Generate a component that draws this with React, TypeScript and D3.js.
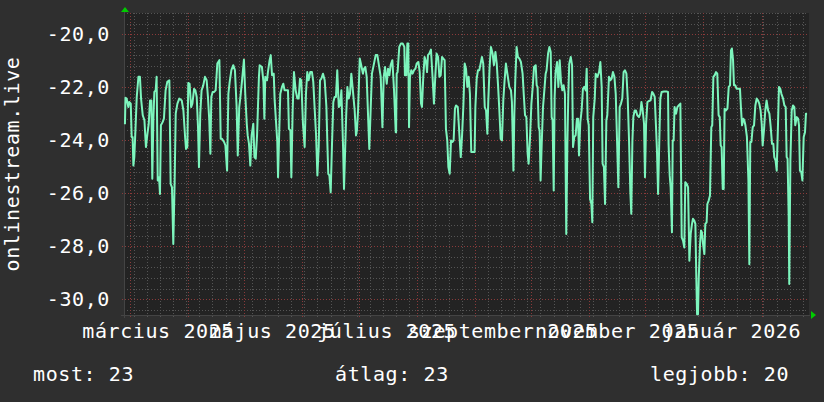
import React from "react";
import * as d3 from "d3";

// Day offsets from 2025-03-01 (UTC) and the series values
const daysSpring = [-2.7,-2.4,-1.8,-0.9,-0.4,0.4,0.9,1.4,1.8,2.3,2.9,3.6,4.5,5.3,5.9,6.8,7.7,8.5,9.3,10.0,10.7,11.4,11.9,12.5,13.0,13.7,14.2,14.8,15.5,16.0,16.5,17.4,18.1,19.0,19.9,21.0,21.7,22.4,23.1,23.8,24.4,25.3,26.3,27.6,28.5,29.4,29.9,30.6,31.1,31.8,32.6,33.3,34.2,34.9,35.6,36.3,36.8,37.5,38.2,39.1,40.0,40.9,41.6,42.3,42.9,43.4,44.1,44.8,45.7,46.6,47.7,48.4,49.1,50.2,50.9,51.8,52.5,53.2,54.1,55.1,56.0,56.9,57.5,58.3,59.1,59.8,60.8,61.5,62.3,62.8,63.5,64.2,64.9,65.8,66.4,67.1,67.8];
const valsSpring = [-23.4,-22.4,-22.43,-22.75,-22.56,-22.62,-23.88,-23.88,-24.96,-24.64,-23.63,-22.37,-21.61,-21.61,-22.43,-23.06,-23.25,-24.26,-23.76,-23.38,-22.5,-22.5,-25.46,-23.13,-22.18,-22.12,-21.61,-25.52,-25.4,-26.03,-23.44,-23.32,-23.19,-22.12,-21.8,-21.74,-25.65,-25.78,-27.92,-25.65,-23.0,-22.62,-22.43,-22.5,-22.88,-23.88,-24.33,-24.26,-21.84,-21.87,-22.75,-22.62,-22.06,-22.12,-22.37,-23.51,-25.02,-23.0,-22.12,-21.93,-21.61,-21.74,-22.37,-23.25,-24.51,-22.37,-22.18,-22.18,-22.12,-21.11,-20.98,-23.95,-23.95,-24.07,-24.2,-25.15,-22.25,-21.8,-21.36,-21.17,-21.36,-22.75,-24.58,-22.75,-22.25,-21.74,-20.96,-22.25,-23.38,-23.82,-24.14,-24.96,-23.82,-23.38,-24.64,-24.7,-23.82];

const daysSummer = [68.8,69.2,70.4,71.2,71.7,72.2,73.1,73.6,74.5,75.1,75.8,76.7,77.2,78.1,78.6,79.0,79.5,80.2,81.1,81.8,82.5,83.4,84.3,84.8,85.6,86.1,86.8,87.5,88.4,89.3,90.0,90.7,91.4,92.3,93.2,93.9,94.6,95.3,96.2,97.1,97.8,98.5,99.3,100.0,100.7,101.4,102.1,103.0,103.9,104.8,105.3,105.8,106.4,107.1,107.8,108.5,109.2,109.9,110.6,111.4,112.1,112.8,113.7,114.2,114.9,115.4,116.0,116.7,117.4,118.1,119.0,119.9,120.6,121.1,121.7,122.6,123.4,124.3,124.9,125.6,126.3,127.0,127.7,128.4,129.1,130.2,131.1,132.0,132.7,133.8,134.7,135.4,136.1,137.0,137.7,138.4,139.1,140.0,140.9,141.8,142.0];
const valsSummer = [-21.61,-21.17,-21.24,-21.8,-23.19,-21.61,-21.74,-21.43,-20.98,-20.79,-21.55,-21.49,-22.5,-23.51,-24.07,-25.4,-24.07,-22.25,-21.99,-21.87,-22.12,-22.12,-22.12,-23.57,-23.63,-25.4,-22.88,-21.43,-22.12,-22.43,-22.43,-21.68,-21.74,-23.38,-24.26,-22.25,-21.43,-21.74,-21.43,-21.43,-21.8,-22.75,-23.82,-25.33,-24.26,-21.74,-21.68,-21.49,-21.74,-22.75,-24.07,-25.27,-25.33,-25.97,-24.14,-22.56,-22.37,-22.37,-21.36,-22.75,-22.69,-22.12,-24.26,-25.84,-24.14,-23.0,-21.99,-22.43,-22.25,-21.49,-22.18,-22.88,-23.82,-23.63,-22.88,-20.92,-21.17,-21.49,-21.3,-21.24,-21.61,-23.0,-24.33,-22.88,-21.49,-21.11,-20.79,-20.79,-21.11,-21.61,-23.51,-21.61,-21.24,-21.87,-21.3,-21.55,-21.17,-20.98,-22.12,-23.7,-23.7];

const daysAutumn = [142.3,142.8,143.7,144.6,145.5,146.4,146.7,147.5,148.0,148.5,148.9,149.4,150.1,150.8,151.6,152.3,153.0,153.9,154.6,155.3,155.8,156.5,157.2,158.0,158.5,159.0,159.7,160.6,161.5,162.2,162.9,163.6,164.4,165.1,165.8,166.5,167.2,167.9,168.6,169.3,169.9,170.6,171.3,172.0,172.7,173.4,174.0,174.9,175.7,176.5,177.2,177.9,178.6,179.3,180.0,180.7,181.4,182.1,182.9,183.9,184.3,185.0,185.7,186.4,187.1,187.8,188.5,189.3,190.0,190.7,191.2,191.9,192.6,193.5,194.2,195.0,195.7,196.4,197.1,197.8,198.5,199.2,199.9,200.6,201.5,202.4,203.3,203.8,204.6,205.1,205.6,206.3,207.0,207.8,208.6,209.5,210.1,210.8,211.5,212.2,212.7,213.4,214.2,214.9,215.6,216.5,217.0,217.5,218.1,218.6,219.1,219.7,220.4,221.1,221.8,222.3,223.1,223.8,224.5,225.0,225.5,226.1,226.6,227.1,227.9,228.6,229.3,230.0,230.7,231.4,232.1,232.8,233.4,233.9,234.4,235.2,235.9,236.4,237.1,237.8,238.5,239.1,239.6,240.3,241.0,241.7,242.4,243.2,243.7,244.2,244.8,245.5,246.2,246.7,247.2,248.0,248.5,249.4,250.3,251.0,251.7,252.2,252.9,253.5,254.2,254.7,255.6,256.3,257.0,257.7,258.5,259.2,259.9,260.6];
const valsAutumn = [-21.49,-21.43,-20.48,-20.35,-20.35,-20.48,-21.55,-21.55,-20.35,-20.35,-23.51,-21.61,-21.36,-21.49,-21.36,-21.3,-21.11,-21.05,-21.43,-22.62,-22.75,-21.61,-20.86,-21.05,-21.43,-20.79,-20.73,-20.58,-21.68,-22.62,-21.61,-20.73,-20.86,-21.61,-21.55,-20.86,-20.92,-20.98,-23.57,-24.01,-25.02,-25.27,-24.01,-24.07,-24.01,-22.81,-22.69,-22.75,-23.7,-24.64,-23.82,-22.69,-21.11,-21.3,-21.99,-21.61,-22.25,-24.45,-24.45,-24.45,-22.75,-21.68,-21.36,-21.36,-21.11,-20.86,-21.11,-22.75,-22.88,-23.76,-22.5,-21.24,-20.48,-20.73,-21.17,-20.67,-21.11,-21.93,-22.88,-23.95,-24.01,-22.5,-21.74,-21.11,-21.55,-21.99,-22.12,-22.56,-25.15,-23.0,-21.74,-20.48,-20.86,-20.92,-21.05,-21.49,-22.25,-23.06,-23.13,-24.51,-24.89,-24.01,-22.62,-21.99,-21.24,-21.17,-21.93,-21.99,-23.51,-23.63,-25.52,-24.14,-22.75,-22.12,-21.49,-21.36,-20.73,-20.48,-20.67,-23.13,-23.25,-25.9,-22.37,-21.43,-21.05,-21.99,-20.98,-21.8,-22.12,-21.93,-22.25,-27.54,-24.14,-22.25,-21.11,-20.86,-21.17,-24.26,-23.88,-23.82,-23.19,-23.19,-24.58,-23.32,-22.88,-22.06,-21.99,-22.12,-21.3,-23.19,-23.44,-26.22,-26.41,-27.1,-23.13,-22.43,-21.49,-21.61,-21.43,-21.05,-21.99,-24.89,-25.02,-26.41,-23.25,-23.06,-21.61,-21.74,-21.68,-21.43,-21.61,-22.25,-24.01,-25.78];

const daysWinter = [261.3,262.0,262.7,263.4,264.1,264.9,265.6,266.3,267.0,267.5,268.1,268.6,269.3,270.0,270.7,271.6,272.3,272.9,273.6,274.3,274.8,275.4,276.1,277.0,277.8,278.6,279.3,280.0,280.7,281.2,281.8,282.5,283.0,283.7,285.0,286.2,287.1,287.4,288.0,288.5,289.2,289.6,290.1,290.6,291.4,292.1,292.8,293.7,294.4,295.1,295.8,296.3,297.1,297.8,298.5,299.2,299.9,300.4,301.1,301.7,302.2,302.6,303.1,303.5,304.2,304.7,305.2,305.8,306.5,307.0,307.7,308.1,308.8,309.5,310.2,310.7,311.3,312.0,312.7,313.4,314.1,314.7,315.2,315.7,316.3,316.8,317.3,318.0,318.8,319.5,320.2,320.7,321.2,321.8,322.3,323.0,323.7,324.4,325.5,326.0,326.6,327.3,327.8,328.4,329.2,330.0,330.5,331.0,331.6,332.3,333.0,333.7,334.4,335.1,335.8,336.5,337.1,337.6,338.3,339.0,339.7,340.5,341.2,341.9,342.6,343.3,343.8,344.5,345.1,345.8,346.3,347.0,347.6,348.5,349.2,349.9,350.4,350.9,351.5,351.8,352.4,353.1,353.8,354.5,355.0,355.8,356.5,357.0,357.5,358.2,358.8,359.5,360.2,360.7,361.3];
const valsWinter = [-22.75,-22.62,-22.43,-21.43,-21.36,-21.49,-22.43,-24.01,-25.97,-26.78,-24.01,-23.13,-22.88,-22.88,-23.06,-23.13,-23.0,-22.56,-22.88,-23.38,-25.4,-23.38,-22.56,-22.52,-22.5,-22.18,-22.25,-22.37,-23.51,-24.39,-26.03,-23.88,-22.43,-22.18,-22.16,-22.16,-22.18,-24.14,-25.33,-25.78,-27.48,-24.01,-24.01,-22.75,-23.0,-22.75,-22.69,-22.62,-27.67,-27.79,-28.05,-25.59,-25.65,-25.78,-28.55,-27.54,-27.16,-26.97,-27.04,-27.16,-29.18,-30.57,-30.57,-29.18,-27.92,-27.41,-27.48,-27.92,-28.3,-27.16,-27.1,-26.41,-26.28,-26.09,-23.51,-23.44,-21.61,-21.55,-21.43,-21.49,-23.06,-23.13,-24.2,-24.26,-25.84,-25.84,-22.81,-22.88,-22.81,-21.99,-21.93,-20.61,-20.54,-20.98,-21.93,-21.93,-22.06,-22.06,-22.06,-22.75,-23.44,-23.19,-23.25,-23.44,-23.88,-25.52,-28.68,-24.07,-24.07,-23.51,-23.44,-22.69,-22.43,-22.5,-22.62,-22.88,-23.38,-24.2,-23.63,-22.88,-22.5,-22.88,-23.0,-23.51,-24.14,-24.14,-24.64,-24.77,-25.15,-23.38,-21.99,-22.06,-22.25,-22.43,-22.69,-22.75,-24.64,-24.7,-26.91,-29.43,-24.77,-22.88,-22.69,-22.75,-23.44,-23.13,-23.19,-23.44,-25.15,-25.21,-25.52,-23.88,-23.7,-23.0,-23.0];

const yTicks = [-30, -28, -26, -24, -22, -20];
const monthNames = ["január","február","március","április","május","június","július","augusztus","szeptember","október","november","december"];
const labelMonths = [
  [2025, 2], [2025, 4], [2025, 6], [2025, 8], [2025, 10], [2026, 0],
];
const yTitle = "onlinestream.live";
const legendItems = [
  { label: "most", value: "23" },
  { label: "átlag", value: "23" },
  { label: "legjobb", value: "20" },
];

const W = 824, H = 402;
const BG = "#2f2f2f";
const PLOT_BG = "#232323";
const LINE = "#7df5bd";
const FONT = "'DejaVu Sans Mono', monospace";

export default function App() {
  const base = Date.UTC(2025, 2, 1);
  const DAY = 86400000;
  const left = 124, right = 808, top = 13, bottom = 315;
  const x = d3.scaleUtc().domain([new Date(base - 3.2 * DAY), new Date(base + 361.8 * DAY)]).range([left, right]);
  const y = d3.scaleLinear().domain([-30.6, -19.2]).range([bottom, top]);

  const days = [...daysSpring, ...daysSummer, ...daysAutumn, ...daysWinter];
  const vals = [...valsSpring, ...valsSummer, ...valsAutumn, ...valsWinter];
  const data = days.map((d, i) => ({ t: new Date(base + d * DAY), v: vals[i] }));
  const line = d3.line<{ t: Date; v: number }>().x(p => x(p.t)).y(p => y(p.v));

  const [d0, d1] = x.domain();
  const mondays = d3.utcMonday.range(d0, d1);
  const months = d3.utcMonth.range(d0, d1);
  const minorY = d3.range(-30.4, -19.19, 0.4).map(v => Math.round(v * 10) / 10).filter(v => Math.abs(v % 2) > 0.01);

  return (
    <svg width={W} height={H} style={{ display: "block", position: "absolute", left: 0, top: 0 }} fontFamily={FONT}>
      <rect width={W} height={H} fill={BG} />
      <rect x={left} y={top} width={right - left + 1} height={bottom - top} fill={PLOT_BG} />
      <g shapeRendering="crispEdges">
        {minorY.map(v => (
          <line key={"my" + v} x1={left} x2={right} y1={Math.round(y(v)) + 0.5} y2={Math.round(y(v)) + 0.5} stroke="#555" strokeDasharray="1,2" />
        ))}
        {mondays.map(m => (
          <line key={"mx" + +m} x1={Math.round(x(m)) + 0.5} x2={Math.round(x(m)) + 0.5} y1={top} y2={bottom + 2} stroke="#555" strokeDasharray="1,2" />
        ))}
        {yTicks.map(v => (
          <line key={"My" + v} x1={left - 2} x2={right} y1={Math.round(y(v)) + 0.5} y2={Math.round(y(v)) + 0.5} stroke="#8a3a3a" strokeDasharray="1,2" />
        ))}
        {months.map(m => (
          <line key={"Mx" + +m} x1={Math.round(x(m)) + 0.5} x2={Math.round(x(m)) + 0.5} y1={top} y2={bottom + 3} stroke="#8a3a3a" strokeDasharray="1,2" />
        ))}
        <line x1={left - 3} x2={right + 2} y1={bottom + 0.5} y2={bottom + 0.5} stroke="#444" />
        <line x1={left + 0.5} x2={left + 0.5} y1={top - 2} y2={bottom + 3} stroke="#444" />
      </g>
      <path d={line(data) ?? ""} fill="none" stroke={LINE} strokeWidth={2} strokeLinejoin="round" />
      <path d={`M${left - 3},${top - 1} L${left + 5},${top - 1} L${left + 1},${top - 6} Z`} fill="#00cc00" />
      <path d={`M${right + 3},${bottom - 4} L${right + 3},${bottom + 4} L${right + 8},${bottom} Z`} fill="#00cc00" />
      <g fill="#ffffff" fontSize={20} letterSpacing={0.6}>
        {yTicks.map(v => (
          <text key={"yl" + v} x={110} y={y(v) + 7} textAnchor="end">{d3.format(".1f")(v).replace(".", ",").replace("−", "-")}</text>
        ))}
        {labelMonths.map(([yr, mo]) => {
          const t = new Date(Date.UTC(yr, mo, 16));
          return <text key={"xl" + yr + mo} x={x(t)} y={338} textAnchor="middle">{`${monthNames[mo]} ${yr}`}</text>;
        })}
        <text transform={`translate(19,164) rotate(-90)`} textAnchor="middle">{yTitle}</text>
        <text x={33} y={381}>{`${legendItems[0].label}: ${legendItems[0].value}`}</text>
        <text x={335} y={381}>{`${legendItems[1].label}: ${legendItems[1].value}`}</text>
        <text x={650} y={381}>{`${legendItems[2].label}: ${legendItems[2].value}`}</text>
      </g>
    </svg>
  );
}
